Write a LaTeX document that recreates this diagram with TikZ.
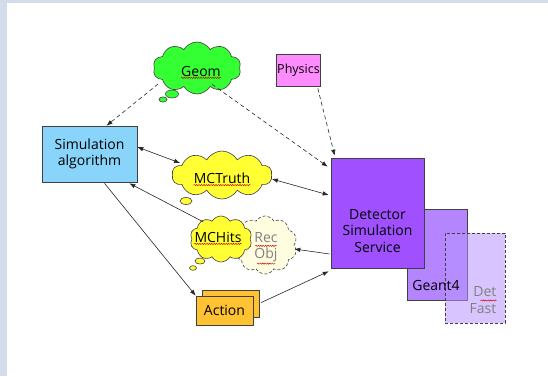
\documentclass[tikz,border=0pt]{standalone}
\usepackage{fontspec}
\setmainfont{Open Sans}
\usetikzlibrary{shapes.symbols,arrows.meta,calc,decorations.pathmorphing}

\definecolor{band}{HTML}{D3DCEA}
\definecolor{simblue}{HTML}{88D4FA}
\definecolor{physpink}{HTML}{FF8CFF}
\definecolor{geomgreen}{HTML}{33FF33}
\definecolor{mcyellow}{HTML}{FFFF33}
\definecolor{recpale}{HTML}{FFFDE0}
\definecolor{actorange}{HTML}{FFC232}
\definecolor{dsspurple}{HTML}{A050FF}
\definecolor{g4purple}{HTML}{B584FF}
\definecolor{fastpurple}{HTML}{B895FF}
\definecolor{inkgrey}{HTML}{808080}

\begin{document}
\begin{tikzpicture}[x=1pt,y=-1pt,
  box/.style={draw=black!75, line width=0.6pt, inner sep=0pt},
  lbl/.style={font=\fontsize{14}{16.5}\selectfont, inner sep=0pt, align=center, text=black},
  greylbl/.style={lbl, text=inkgrey},
  bubble/.style={cloud, cloud puffs=10, cloud puff arc=120, cloud ignores aspect,
    draw=black!75, line width=0.6pt, inner sep=0pt},
  conn/.style={line width=0.6pt, draw=black!85, -{Latex[length=6pt,width=4.5pt]}},
  dconn/.style={conn, dash pattern=on 4pt off 3pt},
  both/.style={conn, {Latex[length=6pt,width=4.5pt]}-{Latex[length=6pt,width=4.5pt]}},
  spell/.style={red!80!black, line width=0.45pt, decorate,
    decoration={snake, amplitude=0.6pt, segment length=2.4pt}}
]
% page frame
\fill[band] (0,0) rectangle (548,376);
\fill[white] (7,3) rectangle (548,376);
\useasboundingbox (0,0) rectangle (548,376);

% detector simulation boxes
\node[box, fill=g4purple, minimum width=60, minimum height=91] (g4) at (437,254.5) {};
\node[box, fill=dsspurple, minimum width=93, minimum height=110] (dss) at (377.5,213) {};
\node[box, draw=black!75, dash pattern=on 3pt off 2pt, fill=fastpurple, fill opacity=0.55,
      minimum width=60, minimum height=90] (fast) at (475,278) {};
\node[lbl] (dsstxt) at ($(dss.center)+(0,18)$) {Detector\\Simulation\\Service};
\node[lbl] (g4txt) at ($(g4.center)+(-1,31)$) {Geant4};
\node[greylbl, align=right] (fasttxt) at ($(fast.center)+(8,22)$) {Det\\Fast};

% plain boxes
\node[box, fill=simblue, minimum width=95, minimum height=56] (sim) at (89.5,154) {};
\node[lbl] (simtxt) at (sim.center) {Simulation\\algorithm};
\node[box, fill=physpink, minimum width=44, minimum height=32] (phys) at (298.5,70) {};
\node[lbl, font=\fontsize{12.5}{15}\selectfont] (phystxt) at (phys.center) {Physics};
\node[box, fill=actorange, minimum width=57, minimum height=27] (actback) at (230.5,303.5) {};
\node[box, fill=actorange, minimum width=57, minimum height=29] (act) at (224.5,310.5) {};
\node[lbl] (acttxt) at (act.center) {Action};

% clouds
\node[bubble, fill=geomgreen, minimum width=88, minimum height=52] (geom) at (197,68) {};
\filldraw[fill=geomgreen, draw=black!75, line width=0.6pt] (172,94) ellipse [x radius=6.5, y radius=4];
\filldraw[fill=geomgreen, draw=black!75, line width=0.6pt] (163,99.5) ellipse [x radius=4, y radius=2.6];
\node[lbl] (geomtxt) at (201,71) {Geom};

\node[bubble, fill=mcyellow, minimum width=100, minimum height=48] (mct) at (222,175) {};
\filldraw[fill=mcyellow, draw=black!75, line width=0.6pt] (186,201) ellipse [x radius=6, y radius=3.5];
\node[lbl] (mcttxt) at (222,178) {MCTruth};

\node[bubble, fill=recpale, dash pattern=on 3pt off 2pt, minimum width=64, minimum height=58] (rec) at (265,245) {};
\node[bubble, fill=mcyellow, minimum width=62, minimum height=46] (mch) at (221,239) {};
\filldraw[fill=mcyellow, draw=black!75, line width=0.6pt] (200,261) ellipse [x radius=5, y radius=3];
\filldraw[fill=mcyellow, draw=black!75, line width=0.6pt] (193,268) ellipse [x radius=3.5, y radius=2.3];
\node[lbl] (mchtxt) at (218,237) {MCHits};
\node[greylbl] (rectxt) at (266,247) {Rec\\Obj};

% spell-check marks
\draw[spell] ($(geomtxt.south west)+(0,1.5)$) -- ($(geomtxt.south east)+(0,1.5)$);
\draw[spell] ($(mcttxt.south west)+(0,1.5)$) -- ($(mcttxt.south east)+(0,1.5)$);
\draw[spell] ($(mchtxt.south west)+(0,1.5)$) -- ($(mchtxt.south east)+(0,1.5)$);
\draw[spell] ($(rectxt.north west)+(1,14)$) -- ($(rectxt.north east)+(-1,14)$);
\draw[spell] ($(rectxt.south west)+(3,1.5)$) -- ($(rectxt.south east)+(-3,1.5)$);
\draw[spell] ($(fasttxt.north west)+(11,14)$) -- ($(fasttxt.north east)+(0,14)$);

% connectors
\draw[dconn] ($(geom.west)+(4,16)$) -- ($(sim.north)+(17,0)$);
\draw[dconn] ($(geom.south east)+(-16,-2)$) -- ($(dss.north west)+(-3,9)$);
\draw[dconn] ($(phys.south east)+(-3,2)$) -- ($(dss.north west)+(4,-2)$);
\draw[both] ($(sim.east)+(0,-7)$) -- ($(mct.west)+(8,-12)$);
\draw[both] ($(mct.east)+(0,4)$) -- ($(dss.west)+(-2,-18)$);
\draw[conn] ($(mch.north west)+(4,-1)$) -- ($(sim.south east)+(-8,1)$);
\draw[conn] ($(sim.south)+(15,1)$) -- (act.north west);
\draw[conn] ($(actback.east)+(2,-1)$) -- ($(dss.south west)+(-2,3)$);
\draw[conn] ($(dss.west)+(-1,41)$) -- ($(rec.east)+(0,4)$);
\end{tikzpicture}
\end{document}
